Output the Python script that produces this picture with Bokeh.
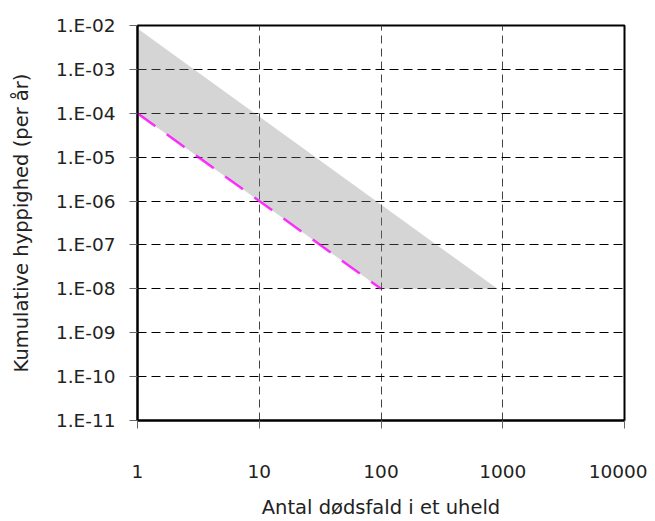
from bokeh.plotting import figure
from bokeh.models import FixedTicker, CustomJSTickFormatter, Range1d
from bokeh.embed import file_html
from bokeh.resources import INLINE

# ---- data ----
x_ticks = [1, 10, 100, 1000, 10000]
y_ticks = [1e-11, 1e-10, 1e-9, 1e-8, 1e-7, 1e-6, 1e-5, 1e-4, 1e-3, 1e-2]

band_upper_n = [1, 905]
band_upper_f = [8.5e-3, 1e-8]
band_lower_n = [1, 100, 905]
band_lower_f = [1e-4, 1e-8, 1e-8]

line_n = [1, 100]
line_f = [1e-4, 1e-8]

FONT = "DejaVu Sans"

p = figure(width=647, height=521, x_axis_type="log", y_axis_type="log",
           x_range=Range1d(1, 10000), y_range=Range1d(1e-11, 1e-2),
           output_backend="svg", toolbar_location=None,
           min_border_left=137, min_border_right=23, min_border_top=25, min_border_bottom=90)

p.outline_line_color = "black"
p.outline_line_width = 2
p.background_fill_color = "white"
p.border_fill_color = "white"

# band polygon
poly_x = band_upper_n + band_lower_n[::-1]
poly_y = band_upper_f + band_lower_f[::-1]
p.patch(poly_x, poly_y, fill_color="#808080", fill_alpha=0.33, line_color=None)

# magenta dashed line
p.line(line_n, line_f, line_color="#ff00ff", line_width=2.5, line_dash="22 14", line_alpha=0.8)

# grids
p.xgrid.grid_line_color = "#444444"
p.xgrid.grid_line_dash = "8 5"
p.xgrid.grid_line_width = 1
p.ygrid.grid_line_color = "black"
p.ygrid.grid_line_dash = "9 5"
p.ygrid.grid_line_width = 1
p.xgrid.ticker = FixedTicker(ticks=x_ticks)
p.ygrid.ticker = FixedTicker(ticks=y_ticks)

# axes
p.xaxis.ticker = FixedTicker(ticks=x_ticks, minor_ticks=[])
p.yaxis.ticker = FixedTicker(ticks=y_ticks, minor_ticks=[])
p.xaxis.formatter = CustomJSTickFormatter(code="return Math.round(tick).toString();")
p.yaxis.formatter = CustomJSTickFormatter(code="""
const e = Math.round(Math.log10(tick));
const s = Math.abs(e).toString().padStart(2, '0');
return '1.E' + (e < 0 ? '-' : '+') + s;
""")

for ax in (p.xaxis[0], p.yaxis[0]):
    ax.axis_line_color = "black"
    ax.axis_line_width = 2
    ax.major_tick_line_color = "#666666"
    ax.major_tick_line_width = 1
    ax.major_tick_out = 8
    ax.major_tick_in = 0
    ax.minor_tick_line_color = None
    ax.major_label_text_font = FONT
    ax.major_label_text_font_size = "18.5px"
    ax.major_label_text_color = "#222222"
    ax.axis_label_text_font = FONT
    ax.axis_label_text_font_size = "19.5px"
    ax.axis_label_text_font_style = "normal"
    ax.axis_label_text_color = "#222222"

p.xaxis.axis_label = "Antal dødsfald i et uheld"
p.yaxis.axis_label = "Kumulative hyppighed (per år)"
p.xaxis.major_label_standoff = 36
p.yaxis.major_label_standoff = 14
p.xaxis.axis_label_standoff = 15
p.yaxis.axis_label_standoff = 20

open("out.html", "w").write(file_html(p, INLINE))
